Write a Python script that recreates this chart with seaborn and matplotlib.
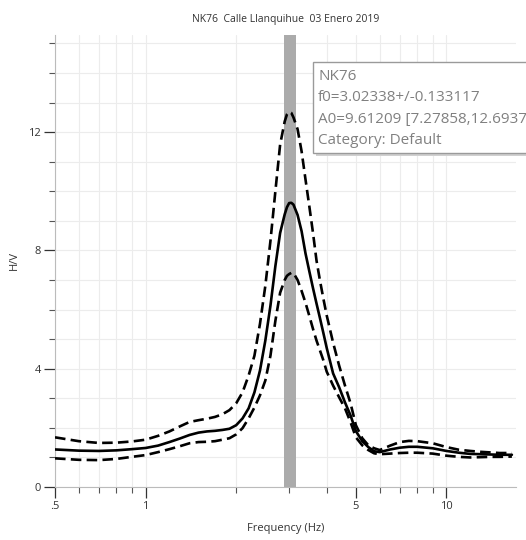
import numpy as np
import pandas as pd
import matplotlib
matplotlib.use("Agg")
import matplotlib.pyplot as plt
import seaborn as sns
from matplotlib.ticker import FixedLocator, NullFormatter

# H/V curve
freq = [0.5, 0.6, 0.7, 0.8, 0.9, 1.0, 1.1, 1.2, 1.3, 1.4, 1.5, 1.6, 1.7, 1.8, 1.9,
        2.0, 2.1, 2.2, 2.3, 2.4, 2.5, 2.6, 2.7, 2.8, 2.9, 2.95, 3.0, 3.05, 3.1, 3.2,
        3.3, 3.4, 3.5, 3.6, 3.7, 3.8, 3.9, 4.0, 4.2, 4.4, 4.6, 4.8, 5.0, 5.25, 5.5,
        5.75, 6.0, 6.5, 7.0, 7.5, 8.0, 9.0, 10, 11, 12, 13, 14, 15, 16.5]
hv_mean = [1.27, 1.23, 1.22, 1.24, 1.28, 1.32, 1.40, 1.52, 1.64, 1.76, 1.84, 1.88, 1.90, 1.93, 1.97,
           2.09, 2.32, 2.66, 3.20, 3.94, 4.95, 6.13, 7.47, 8.59, 9.22, 9.46, 9.60, 9.61, 9.55, 9.20,
           8.65, 7.90, 7.30, 6.73, 6.20, 5.70, 5.20, 4.70, 3.84, 3.37, 2.86, 2.42, 1.89, 1.55, 1.35,
           1.21, 1.18, 1.27, 1.33, 1.36, 1.36, 1.31, 1.22, 1.16, 1.12, 1.11, 1.10, 1.09, 1.09]
hv_upper = [1.68, 1.55, 1.49, 1.50, 1.54, 1.60, 1.73, 1.88, 2.05, 2.20, 2.26, 2.31, 2.37, 2.46, 2.60,
            2.83, 3.20, 3.77, 4.44, 5.52, 6.80, 8.32, 10.0, 11.58, 12.36, 12.60, 12.69, 12.65, 12.50, 12.10,
            11.35, 10.40, 9.50, 8.60, 7.65, 6.97, 6.36, 5.80, 4.88, 4.10, 3.43, 2.83, 2.09, 1.65, 1.41,
            1.31, 1.25, 1.40, 1.52, 1.56, 1.55, 1.48, 1.35, 1.26, 1.22, 1.19, 1.17, 1.15, 1.15]
hv_lower = [0.97, 0.92, 0.91, 0.95, 1.02, 1.08, 1.18, 1.28, 1.38, 1.48, 1.52, 1.53, 1.55, 1.60, 1.65,
            1.78, 1.99, 2.32, 2.69, 3.10, 3.60, 4.44, 5.62, 6.57, 7.00, 7.14, 7.20, 7.24, 7.24, 7.00,
            6.63, 6.23, 5.79, 5.35, 4.95, 4.61, 4.28, 3.90, 3.43, 3.03, 2.66, 2.19, 1.68, 1.41, 1.25,
            1.14, 1.11, 1.13, 1.15, 1.16, 1.16, 1.13, 1.06, 1.02, 1.00, 1.01, 1.02, 1.02, 1.03]

f0 = 3.02338
f0_std = 0.133117
title = "NK76  Calle Llanquihue  03 Enero 2019"
info_lines = ["NK76", "f0=3.02338+/-0.133117", "A0=9.61209 [7.27858,12.6937]", "Category: Default"]

df = pd.DataFrame({"freq": freq, "mean": hv_mean, "upper": hv_upper, "lower": hv_lower})

sns.set_style("ticks")
plt.rcParams["font.family"] = ["Open Sans", "DejaVu Sans"]

fig = plt.figure(figsize=(5.26, 5.40), dpi=100)
ax = fig.add_axes([0.1046, 0.0981, 0.876, 0.838])

# f0 +/- std band
ax.axvspan(f0 - f0_std, f0 + f0_std, color="#ababab", lw=0, zorder=1, clip_on=False)

sns.lineplot(data=df, x="freq", y="mean", color="black", lw=1.9, ax=ax, zorder=3)
sns.lineplot(data=df, x="freq", y="upper", color="black", lw=1.9, ax=ax, zorder=3,
             linestyle=(0, (4, 2)))
sns.lineplot(data=df, x="freq", y="lower", color="black", lw=1.9, ax=ax, zorder=3,
             linestyle=(0, (4, 2)))

ax.set_xscale("log")
ax.set_xlim(0.5, 17)
ax.set_ylim(0, 15.3)

ax.xaxis.set_major_locator(FixedLocator([0.5, 1, 5, 10]))
ax.set_xticklabels([".5", "1", "5", "10"])
ax.xaxis.set_minor_locator(FixedLocator([0.6, 0.7, 0.8, 0.9, 2, 3, 4, 6, 7, 8, 9]))
ax.xaxis.set_minor_formatter(NullFormatter())
ax.yaxis.set_major_locator(FixedLocator([0, 4, 8, 12]))
ax.yaxis.set_minor_locator(FixedLocator([1, 2, 3, 5, 6, 7, 9, 10, 11, 13, 14, 15]))

ax.grid(which="both", color="#ececec", lw=0.8, zorder=0)
ax.tick_params(which="major", length=8, width=0.9, labelsize=8, colors="#333333", pad=2)
ax.tick_params(which="minor", length=4, width=0.8, colors="#555555")
for side in ["top", "right"]:
    ax.spines[side].set_visible(False)
for side in ["left", "bottom"]:
    ax.spines[side].set_color("#bbbbbb")
    ax.spines[side].set_linewidth(0.8)

ax.set_xlabel("Frequency (Hz)", fontsize=8, color="#333333", labelpad=8)
ax.set_ylabel("H/V", fontsize=8, color="#333333", labelpad=6)
ax.set_title(title, fontsize=7.5, color="#333333", pad=9)

# info box, partly cut by the right edge
shadow = plt.Rectangle((316 / 526, 1 - 156 / 540), 0.5, 91 / 540, transform=fig.transFigure,
                       facecolor="#d0d0d0", edgecolor="none", zorder=4)
fig.add_artist(shadow)
box = plt.Rectangle((313 / 526, 1 - 153 / 540), 0.5, 91 / 540, transform=fig.transFigure,
                    facecolor="white", edgecolor="#9a9a9a", lw=1.0, zorder=5)
fig.add_artist(box)
for i, line in enumerate(info_lines):
    fig.text(318 / 526, 1 - (76 + 21.5 * i) / 540, line, fontsize=11, color="#808080",
             va="center", ha="left", zorder=6)

fig.savefig("out.png", dpi=100)
